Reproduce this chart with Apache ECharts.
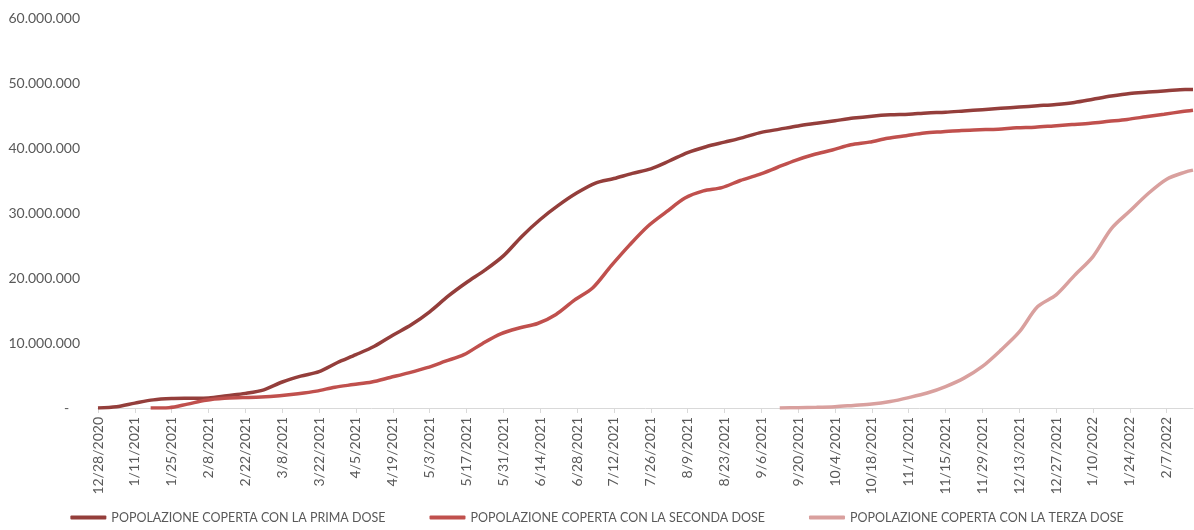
<!DOCTYPE html>
<html>
<head>
<meta charset="utf-8">
<script src="https://cdn.jsdelivr.net/npm/echarts@6/dist/echarts.min.js"></script>
<style>html,body{margin:0;padding:0;background:#fff;}#c{width:1194px;height:530px;}</style>
</head>
<body>
<div id="c"></div>
<script>
// Day offsets counted from the start date 12/28/2020
var startDate = [2020, 12, 28];
var seriesNames = [
  'POPOLAZIONE COPERTA CON LA PRIMA DOSE',
  'POPOLAZIONE COPERTA CON LA SECONDA DOSE',
  'POPOLAZIONE COPERTA CON LA TERZA DOSE'
];
var firstDays = [0,7,14,21,28,35,42,49,56,63,70,77,84,91,98,105,112,119,126,133,140,147,154,161,168,175,182,189,196,203,210,217,224,231,238,245,252,259,266,273,280,287,294,301,308,315,322,329,336,343,350,357,364,371,378,385,392,399,406,413,416];
var firstValues = [0,0.2,0.75,1.25,1.45,1.5,1.55,1.9,2.25,2.8,4.0,4.9,5.6,7.0,8.2,9.5,11.2,12.8,14.8,17.2,19.3,21.2,23.4,26.4,29.0,31.2,33.1,34.6,35.3,36.1,36.8,38.0,39.3,40.2,40.9,41.6,42.4,42.9,43.4,43.8,44.2,44.6,44.9,45.1,45.2,45.4,45.5,45.7,45.9,46.1,46.3,46.5,46.7,47.0,47.5,48.0,48.4,48.6,48.8,49.0,49.0];
var secondDays = [20,27,34,41,48,55,62,69,76,83,90,97,104,111,118,125,132,139,146,153,160,167,174,181,188,195,202,209,216,223,230,237,244,251,258,265,272,279,286,293,300,307,314,321,328,335,342,349,356,363,370,377,384,391,398,405,412,416];
var secondValues = [0,0.05,0.6,1.2,1.5,1.6,1.7,1.9,2.2,2.6,3.2,3.6,4.0,4.7,5.4,6.2,7.2,8.2,9.9,11.4,12.3,13.0,14.4,16.6,18.5,21.9,25.1,28.0,30.2,32.3,33.4,33.9,35.0,35.9,37.0,38.1,39.0,39.7,40.5,40.9,41.5,41.9,42.3,42.5,42.7,42.8,42.9,43.1,43.2,43.4,43.6,43.8,44.1,44.4,44.8,45.2,45.6,45.8];
var thirdDays = [259,266,273,280,287,294,301,308,315,322,329,336,343,350,357,364,371,378,385,392,399,406,413,416];
var thirdValues = [0,0.05,0.1,0.2,0.4,0.6,1.0,1.6,2.3,3.3,4.6,6.4,8.9,11.7,15.6,17.4,20.4,23.3,27.6,30.3,33.0,35.2,36.3,36.6];
var tickDays = [0,14,28,42,56,70,84,98,112,126,140,154,168,182,196,210,224,238,252,266,280,294,308,322,336,350,364,378,392,406];
var yTicks = [0,10000000,20000000,30000000,40000000,50000000,60000000];

function dayLabel(d){
  var t = new Date(Date.UTC(startDate[0], startDate[1]-1, startDate[2]) + d*86400000);
  return (t.getUTCMonth()+1) + '/' + t.getUTCDate() + '/' + t.getUTCFullYear();
}
function pairs(days, vals){
  return days.map(function(d,i){ return [d, vals[i]*1000000]; });
}
function fmtNum(v){
  if (v === 0) return '-   ';
  return String(v).replace(/\B(?=(\d{3})+(?!\d))/g, '.');
}
var colors = ['#943e3b', '#c0504d', '#d9a09e'];
var font = 'Lato, "Open Sans", sans-serif';
var chart = echarts.init(document.getElementById('c'));
chart.setOption({
  animation: false,
  backgroundColor: '#ffffff',
  color: colors,
  grid: { left: 98, right: 1, top: 18, bottom: 122, containLabel: false },
  xAxis: {
    type: 'value', min: 0, max: 416,
    axisLine: { show: true, lineStyle: { color: '#d9d9d9', width: 1 } },
    axisTick: { show: true, length: 5, lineStyle: { color: '#d9d9d9' }, customValues: tickDays },
    axisLabel: { rotate: 90, margin: 9, color: '#595959', fontSize: 14, fontFamily: font,
      customValues: tickDays, formatter: function(v){ return dayLabel(v); } },
    splitLine: { show: false }
  },
  yAxis: {
    type: 'value', min: 0, max: 60000000, interval: 10000000,
    axisLine: { show: false }, axisTick: { show: false }, splitLine: { show: false },
    axisLabel: { color: '#595959', fontSize: 14, fontFamily: font, margin: 18, formatter: fmtNum }
  },
  legend: {
    bottom: 1, left: 'center', itemGap: 44, itemWidth: 36, itemHeight: 4,
    icon: 'roundRect',
    textStyle: { color: '#595959', fontSize: 12.5, fontFamily: font },
    data: seriesNames
  },
  series: [
    { name: seriesNames[0], type: 'line', data: pairs(firstDays, firstValues), showSymbol: false, smooth: 0.3, lineStyle: { width: 3.5, color: colors[0] } },
    { name: seriesNames[1], type: 'line', data: pairs(secondDays, secondValues), showSymbol: false, smooth: 0.3, lineStyle: { width: 3.5, color: colors[1] } },
    { name: seriesNames[2], type: 'line', data: pairs(thirdDays, thirdValues), showSymbol: false, smooth: 0.3, lineStyle: { width: 3.5, color: colors[2] } }
  ]
});
</script>
</body>
</html>
